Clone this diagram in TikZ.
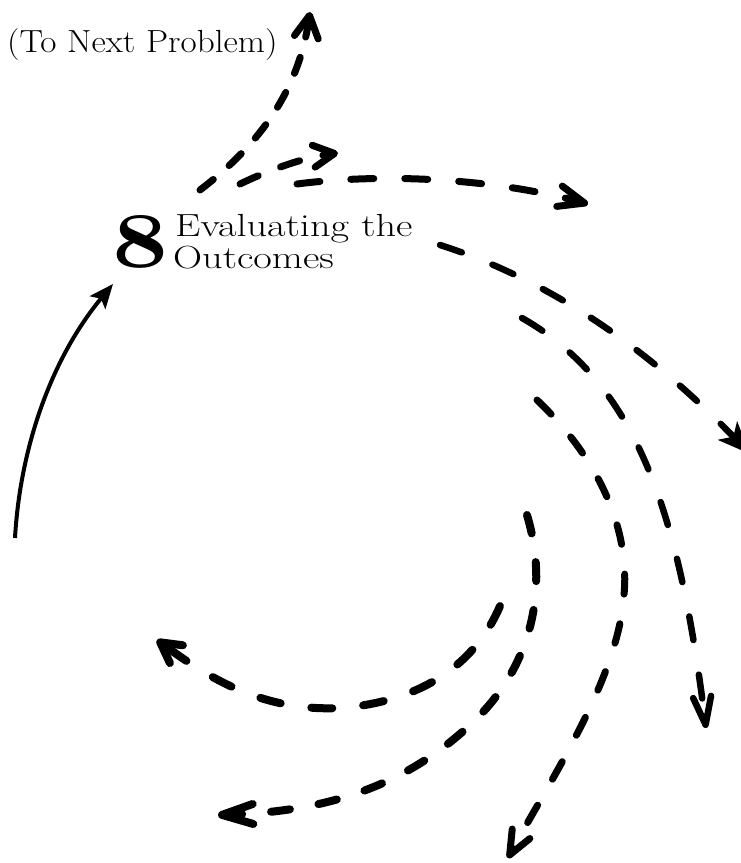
\documentclass[tikz,border=0pt]{standalone}
\usetikzlibrary{arrows.meta}
\begin{document}
\begin{tikzpicture}[x=1pt,y=-1pt,
  lbl/.style={inner sep=0pt,anchor=base west,font=\fontsize{32}{38}\selectfont},
  dsh/.style={line width=7pt,line cap=round,line join=round},
  barb/.style 2 args={-{Straight Barb[length=#1,width=#2,round]}},
  solidarr/.style={line width=4pt,-{Stealth[length=24pt,width=20pt,inset=5pt]}}]
\useasboundingbox (0,0) rectangle (740,863);

% labels
\node[lbl] (next) at (7,52) {\scalebox{1.1}[1]{(To Next Problem)}};
\node[inner sep=0pt,anchor=base west] (eight) at (112,267) {\resizebox{56pt}{52pt}{\bfseries 8}};
\node[lbl] (eval) at (175,236) {\scalebox{1.26}[1]{Evaluating the}};
\node[lbl] (outc) at (173,268) {\scalebox{1.26}[1]{Outcomes}};

% named ends
\coordinate (s0) at (15,538);   \coordinate (s1) at (113,284);
\coordinate (a0) at (200,190);  \coordinate (a1) at (310,12);
\coordinate (b0) at (240,184);  \coordinate (b1) at (338,153);
\coordinate (c0) at (297,184);  \coordinate (c1) at (588,204);
\coordinate (d0) at (440,245);  \coordinate (d1) at (750,454);
\coordinate (e0) at (522,318);  \coordinate (e1) at (706,728);
\coordinate (f0) at (537,400);  \coordinate (fm) at (624,595);  \coordinate (f1) at (508,858);
\coordinate (g0) at (527,515);  \coordinate (gm) at (470,725);  \coordinate (g1) at (218,815);
\coordinate (h0) at (500,606);  \coordinate (hm) at (340,708);  \coordinate (h1) at (157,640);

% solid arrow into step 8
\draw[solidarr] (s0) .. controls (20,450) and (50,360) .. (s1);

% to next problem
\draw[dsh,barb={22pt}{24pt},dash pattern=on 17pt off 21pt] (a0) .. controls (255,148) and (298,95) .. (a1);
% short arrow
\draw[dsh,barb={21pt}{22pt},dash pattern=on 20pt off 24pt] (b0) .. controls (265,172) and (300,158) .. (b1);
% long right arrow
\draw[dsh,barb={26pt}{21pt},dash pattern=on 23pt off 31pt] (c0) .. controls (390,172) and (500,180) .. (c1);
% arrow to right edge
\draw[dsh,line width=6.5pt,dash pattern=on 23pt off 33pt,-{Stealth[length=32pt,width=26pt,inset=8pt]}]
  (d0) .. controls (550,280) and (650,350) .. (d1);
% outer descending arrow
\draw[dsh,line width=6.5pt,barb={28pt}{18pt},dash pattern=on 24pt off 35pt] (e0) .. controls (640,385) and (680,520) .. (e1);
% S-shaped arrow to the bottom
\draw[dsh,barb={24pt}{20pt},dash pattern=on 20pt off 30pt] (f0) .. controls (600,460) and (630,530) .. (fm)
  .. controls (618,680) and (550,780) .. (f1);
% lower-left arrow
\draw[dsh,line width=8pt,barb={31pt}{20pt},dash pattern=on 19pt off 29pt] (g0) .. controls (548,585) and (535,665) .. (gm)
  .. controls (400,790) and (320,812) .. (g1);
% upper-left arrow
\draw[dsh,line width=8pt,barb={20pt}{22pt},dash pattern=on 21pt off 31pt] (h0) .. controls (475,665) and (420,702) .. (hm)
  .. controls (260,712) and (205,675) .. (h1);
\end{tikzpicture}
\end{document}
